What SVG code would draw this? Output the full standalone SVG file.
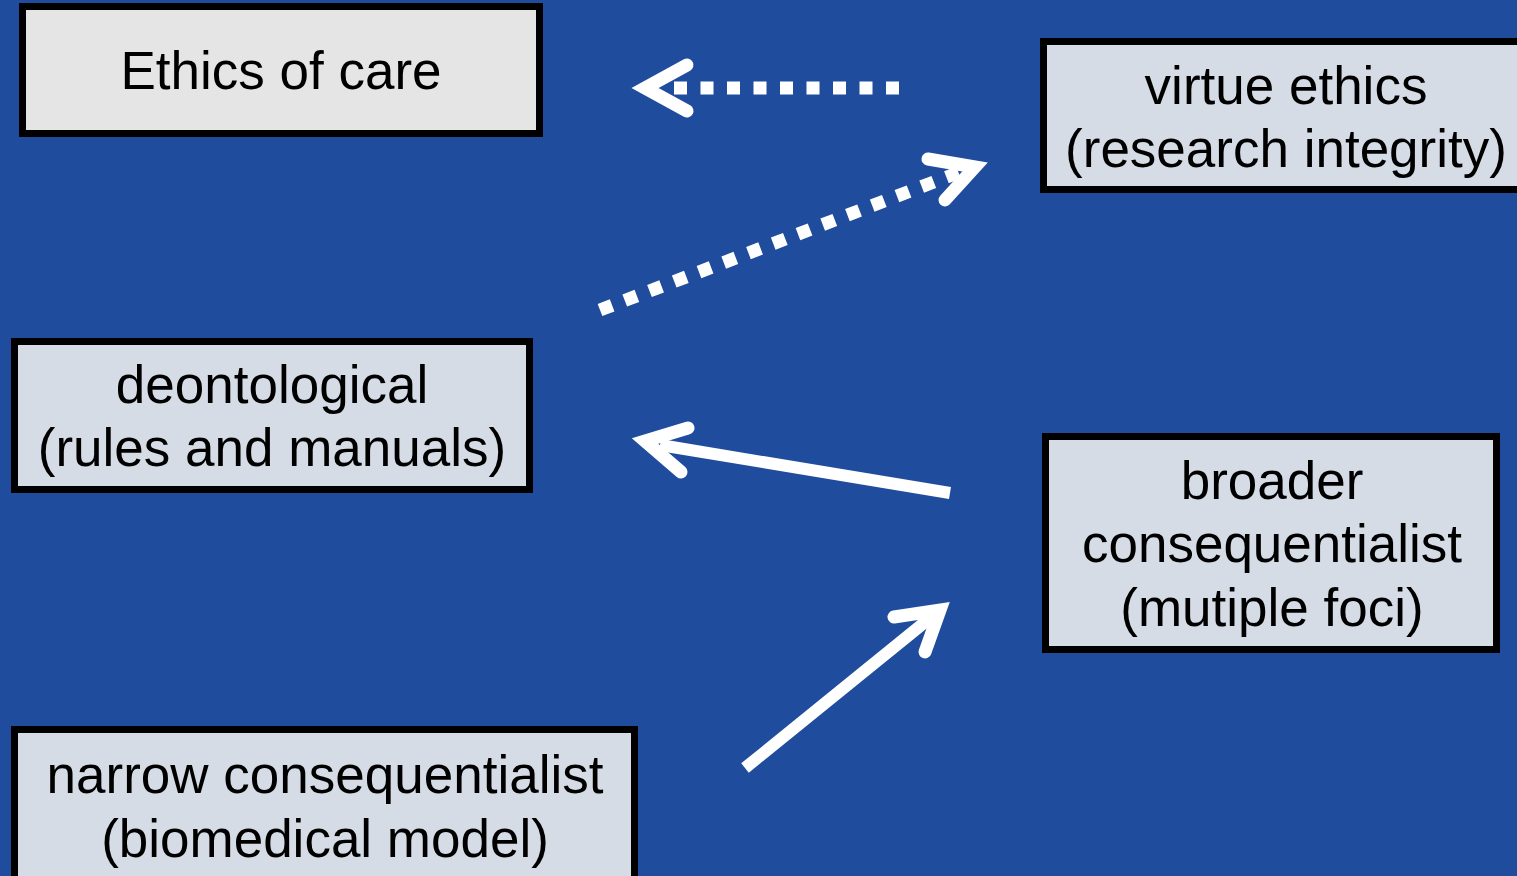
<svg xmlns="http://www.w3.org/2000/svg" width="1517" height="876" viewBox="0 0 1517 876">
<style>
.box{stroke:#000;stroke-width:7}
.grey{fill:#E5E5E5}
.blue{fill:#D6DCE6}
.t{font-family:"Liberation Sans",Arial,sans-serif;font-size:53px;fill:#000;text-anchor:middle}
.dot{fill:none;stroke:#fff;stroke-width:13;stroke-dasharray:13 13.5}
.line{fill:none;stroke:#fff;stroke-width:12;stroke-linecap:butt}
.head{fill:none;stroke:#fff;stroke-width:13;stroke-linecap:round;stroke-linejoin:miter;stroke-miterlimit:10}
</style>
<rect width="1517" height="876" fill="#1F4C9C"/>
<g id="ethics-of-care">
<rect class="box grey" x="22.5" y="6.5" width="517" height="127"/>
<text class="t" x="281" y="89">Ethics of care</text>
</g>
<g id="virtue-ethics">
<rect class="box blue" x="1043.5" y="41.5" width="490" height="148"/>
<text class="t" x="1286" y="104">virtue ethics</text>
<text class="t" x="1286" y="167">(research integrity)</text>
</g>
<g id="deontological">
<rect class="box blue" x="14.5" y="341.5" width="515" height="148"/>
<text class="t" x="272" y="403">deontological</text>
<text class="t" x="272" y="466">(rules and manuals)</text>
</g>
<g id="broader-consequentialist">
<rect class="box blue" x="1045.5" y="436.5" width="451" height="213"/>
<text class="t" x="1272" y="499">broader</text>
<text class="t" x="1272" y="562">consequentialist</text>
<text class="t" x="1272" y="626">(mutiple foci)</text>
</g>
<g id="narrow-consequentialist">
<rect class="box blue" x="14.5" y="729.5" width="620" height="160"/>
<text class="t" x="325" y="793">narrow consequentialist</text>
<text class="t" x="325" y="857">(biomedical model)</text>
</g>
<g id="connectors">
<path class="dot" d="M899 88 L668 88"/>
<path class="head" d="M687 65 L645 88 L687 111"/>
<path class="dot" d="M600 310 L960 172"/>
<path class="head" d="M928 159 L975 167 L945 200"/>
<path class="line" d="M950 493 L660 445"/>
<path class="head" d="M688 428 L645 441 L681 472"/>
<path class="line" d="M745 768 L935 614"/>
<path class="head" d="M894 617 L940 610 L925 652"/>
</g>
</svg>
